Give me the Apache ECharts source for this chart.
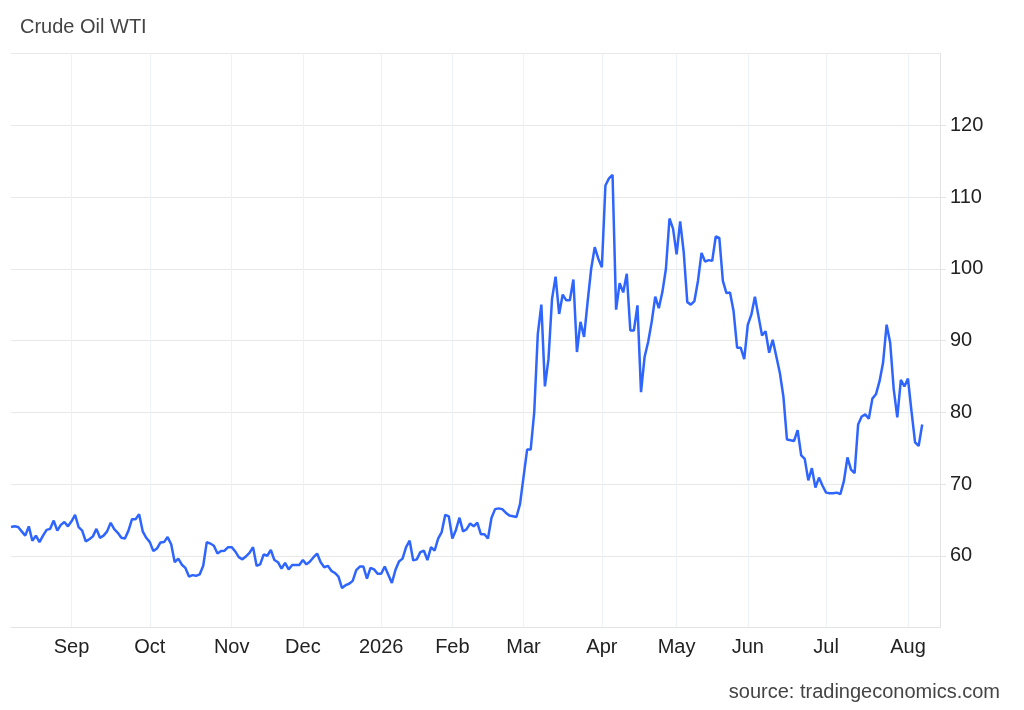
<!DOCTYPE html>
<html>
<head>
<meta charset="utf-8">
<title>Crude Oil WTI</title>
<script src="https://cdn.jsdelivr.net/npm/echarts@6/dist/echarts.min.js"></script>
<style>
  html, body { margin: 0; padding: 0; background: #fff; }
  #chart { width: 1024px; height: 710px; }
</style>
</head>
<body>
<div id="chart"></div>
<script>
// daily closes, one array per month (trading days)
const aug25 = [64.0, 64.1, 64.0, 63.4, 62.8, 64.1, 62.1, 62.8, 61.9, 62.8, 63.6, 63.75, 64.9, 63.5, 64.3, 64.7, 64.1];
const sep25 = [64.8, 65.7, 64.0, 63.5, 62.0, 62.3, 62.7, 63.75, 62.5, 62.8, 63.4, 64.6, 63.7, 63.2, 62.5, 62.4, 63.5, 65.1, 65.1, 65.8, 63.4, 62.5];
const oct25 = [61.9, 60.65, 61.0, 61.85, 61.9, 62.6, 61.6, 59.1, 59.6, 58.75, 58.3, 57.1, 57.3, 57.2, 57.4, 58.6, 61.9, 61.7, 61.4, 60.3, 60.65, 60.7, 61.2];
const nov25 = [61.2, 60.6, 59.8, 59.5, 59.9, 60.4, 61.2, 58.6, 58.8, 60.2, 60.0, 60.8, 59.4, 59.1, 58.2, 59.0, 58.1, 58.7, 58.7, 58.7];
const dec25 = [59.4, 58.8, 59.2, 59.8, 60.3, 59.1, 58.4, 58.6, 57.9, 57.6, 57.1, 55.5, 55.9, 56.1, 56.5, 58.0, 58.5, 58.5, 56.8, 58.3, 58.1, 57.5];
const jan26 = [57.5, 58.5, 57.35, 56.2, 58.0, 59.2, 59.6, 61.2, 62.1, 59.35, 59.5, 60.5, 60.7, 59.4, 61.2, 60.7, 62.4, 63.3, 65.7, 65.5];
const feb26 = [62.4, 63.6, 65.3, 63.4, 63.7, 64.5, 64.1, 64.6, 63.0, 63.0, 62.4, 65.3, 66.5, 66.6, 66.5, 66.0, 65.6, 65.5, 65.4, 67.2];
const mar26 = [71.0, 74.8, 74.8, 80.0, 90.9, 95.0, 83.6, 87.4, 95.8, 98.9, 93.7, 96.4, 95.6, 95.6, 98.5, 88.4, 92.6, 90.5, 95.4, 100.0, 103.0, 101.4];
const apr26 = [100.2, 111.6, 112.6, 113.1, 94.3, 98.0, 96.7, 99.3, 91.4, 91.4, 94.9, 82.8, 87.7, 89.8, 92.6, 96.1, 94.5, 96.75, 100.0, 107.0, 105.6];
const may26 = [102.0, 106.6, 102.3, 95.35, 95.0, 95.5, 98.3, 102.2, 101.0, 101.2, 101.1, 104.5, 104.3, 98.3, 96.6, 96.7, 94.1, 89.0, 89.0, 87.4];
const jun26 = [92.2, 93.6, 96.1, 93.4, 90.7, 91.3, 88.3, 90.1, 87.8, 85.5, 82.2, 76.2, 76.1, 76.0, 77.5, 74.0, 73.5, 70.5, 72.2, 69.5, 70.9, 69.75];
const jul26 = [68.8, 68.7, 68.7, 68.8, 68.6, 70.4, 73.7, 72.0, 71.5, 78.3, 79.4, 79.7, 79.1, 81.9, 82.5, 84.3, 86.9, 92.2, 89.7, 83.2, 79.3, 84.5, 83.6];
const aug26 = [84.7, 80.1, 75.8, 75.3, 78.3];

const months = [aug25, sep25, oct25, nov25, dec25, jan26, feb26, mar26, apr26, may26, jun26, jul26, aug26];
const monthLabels = ["", "Sep", "Oct", "Nov", "Dec", "2026", "Feb", "Mar", "Apr", "May", "Jun", "Jul", "Aug"];
const emptyDaysAtEnd = 5;   // axis runs a few sessions past the last close

const FONT = "'Liberation Sans', Arial, sans-serif";

// flatten into one category axis, remembering where each month starts
const categories = [];
const values = [];
const labelAt = {};
months.forEach((arr, m) => {
  if (monthLabels[m]) labelAt[categories.length] = monthLabels[m];
  arr.forEach((v, d) => {
    categories.push(`${m}-${d}`);
    values.push(v);
  });
});
for (let i = 0; i < emptyDaysAtEnd; i++) {
  categories.push(`pad-${i}`);
  values.push(null);
}
const isMonthStart = idx => labelAt[idx] !== undefined;

const chart = echarts.init(document.getElementById("chart"), null, { renderer: "canvas" });

chart.setOption({
  animation: false,
  backgroundColor: "#fff",
  textStyle: { fontFamily: FONT },
  grid: { left: 11, right: 84, top: 53.5, bottom: 82.5, containLabel: false, outerBoundsMode: "none" },
  graphic: [
    {
      type: "text", left: 20, top: 17,
      style: { text: "Crude Oil WTI", fontSize: 20, fontFamily: FONT, fill: "#444" },
    },
    {
      type: "text", right: 24, top: 682,
      style: { text: "source: tradingeconomics.com", fontSize: 20, fontFamily: FONT, fill: "#444", textAlign: "right" },
    },
  ],
  xAxis: {
    type: "category",
    data: categories,
    boundaryGap: false,
    axisLine: { show: true, lineStyle: { color: "#e3e3e3", width: 1 } },
    axisTick: { show: false },
    axisLabel: {
      interval: idx => isMonthStart(idx),
      formatter: (val, idx) => labelAt[idx] || "",
      fontSize: 20, color: "#222", margin: 10, fontFamily: FONT,
    },
    splitLine: {
      show: true,
      interval: idx => isMonthStart(idx),
      lineStyle: { color: "#edf2f7", width: 1 },
    },
  },
  yAxis: {
    type: "value",
    position: "right",
    min: 50, max: 130, interval: 10,
    axisLine: { show: true, lineStyle: { color: "#e3e3e3", width: 1 } },
    axisTick: { show: true, length: 6, lineStyle: { color: "#e3e3e3" } },
    axisLabel: {
      showMinLabel: false, showMaxLabel: false,
      fontSize: 20, color: "#222", margin: 10, fontFamily: FONT,
    },
    splitLine: { show: true, lineStyle: { color: "#e8e8e8", width: 1 } },
  },
  series: [{
    type: "line",
    data: values,
    showSymbol: false,
    connectNulls: false,
    lineStyle: { color: "#2f65ff", width: 2.5 },
    itemStyle: { color: "#2f65ff" },
  }],
});
</script>
</body>
</html>
